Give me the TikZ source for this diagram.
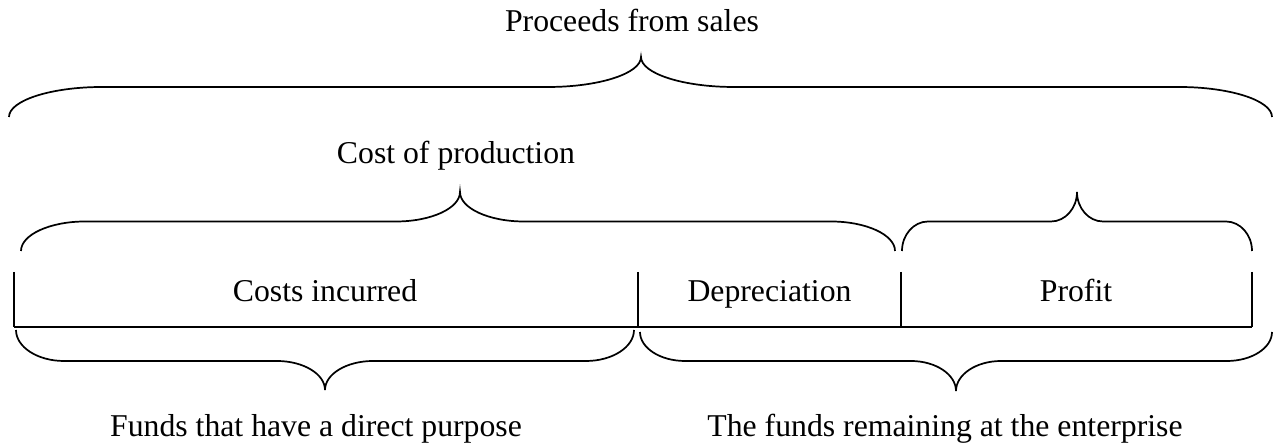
\documentclass[tikz,border=0pt]{standalone}
\usepackage{fontspec}
\setmainfont{Liberation Serif}
\usepackage{tikz}
\usetikzlibrary{calc}

% curly brace: left x, tip x, right x, end y, flat y, tip y, curl
\newcommand{\cbrace}[7]{%
  \draw[brace line] (#1,#4)
    .. controls (#1,#4-0.55*#4+0.55*#5) and (#1+0.45*#7,#5) .. (#1+#7,#5)
    -- (#2-#7,#5)
    .. controls (#2-0.45*#7,#5) and (#2,#6+0.55*#5-0.55*#6) .. (#2,#6)
    .. controls (#2,#6+0.55*#5-0.55*#6) and (#2+0.45*#7,#5) .. (#2+#7,#5)
    -- (#3-#7,#5)
    .. controls (#3-0.45*#7,#5) and (#3,#4-0.55*#4+0.55*#5) .. (#3,#4);
}

\begin{document}
\begin{tikzpicture}[x=0.378pt, y=-0.378pt,
	label text/.style={anchor=base, inner sep=0pt, font=\fontsize{12}{14}\selectfont},
	brace line/.style={line width=0.65pt},
	box line/.style={line width=0.6pt}]
	\useasboundingbox (0,0) rectangle (1281,445);
	% top level
	\node[label text] (proceeds) at (632,32) {Proceeds from sales};
	\cbrace{9}{641}{1272}{117}{87}{57}{93}
	% second level
	\node[label text] (costprod) at (456,164) {Cost of production};
	\cbrace{21}{460}{895}{251}{221.5}{192}{64}
	\cbrace{902}{1077}{1252}{251}{221.5}{192}{26}
	% the strip
	\draw[box line] (14,272) -- (14,327);
	\draw[box line] (638,272) -- (638,327);
	\draw[box line] (901,272) -- (901,327);
	\draw[box line] (1252,272) -- (1252,327);
	\draw[line width=0.8pt] (14,327) -- (1252,327);
	\node[label text] (incurred) at (325,302) {Costs incurred};
	\node[label text] (deprec) at (769.5,302) {Depreciation};
	\node[label text] (profit) at (1076,302) {Profit};
	% bottom level
	\cbrace{16}{325}{634}{330}{361}{390}{48}
	\cbrace{640}{956}{1272}{332}{361}{391}{45}
	\node[label text] (direct) at (316,437) {Funds that have a direct purpose};
	\node[label text] (remaining) at (945,437) {The funds remaining at the enterprise};
\end{tikzpicture}
\end{document}
